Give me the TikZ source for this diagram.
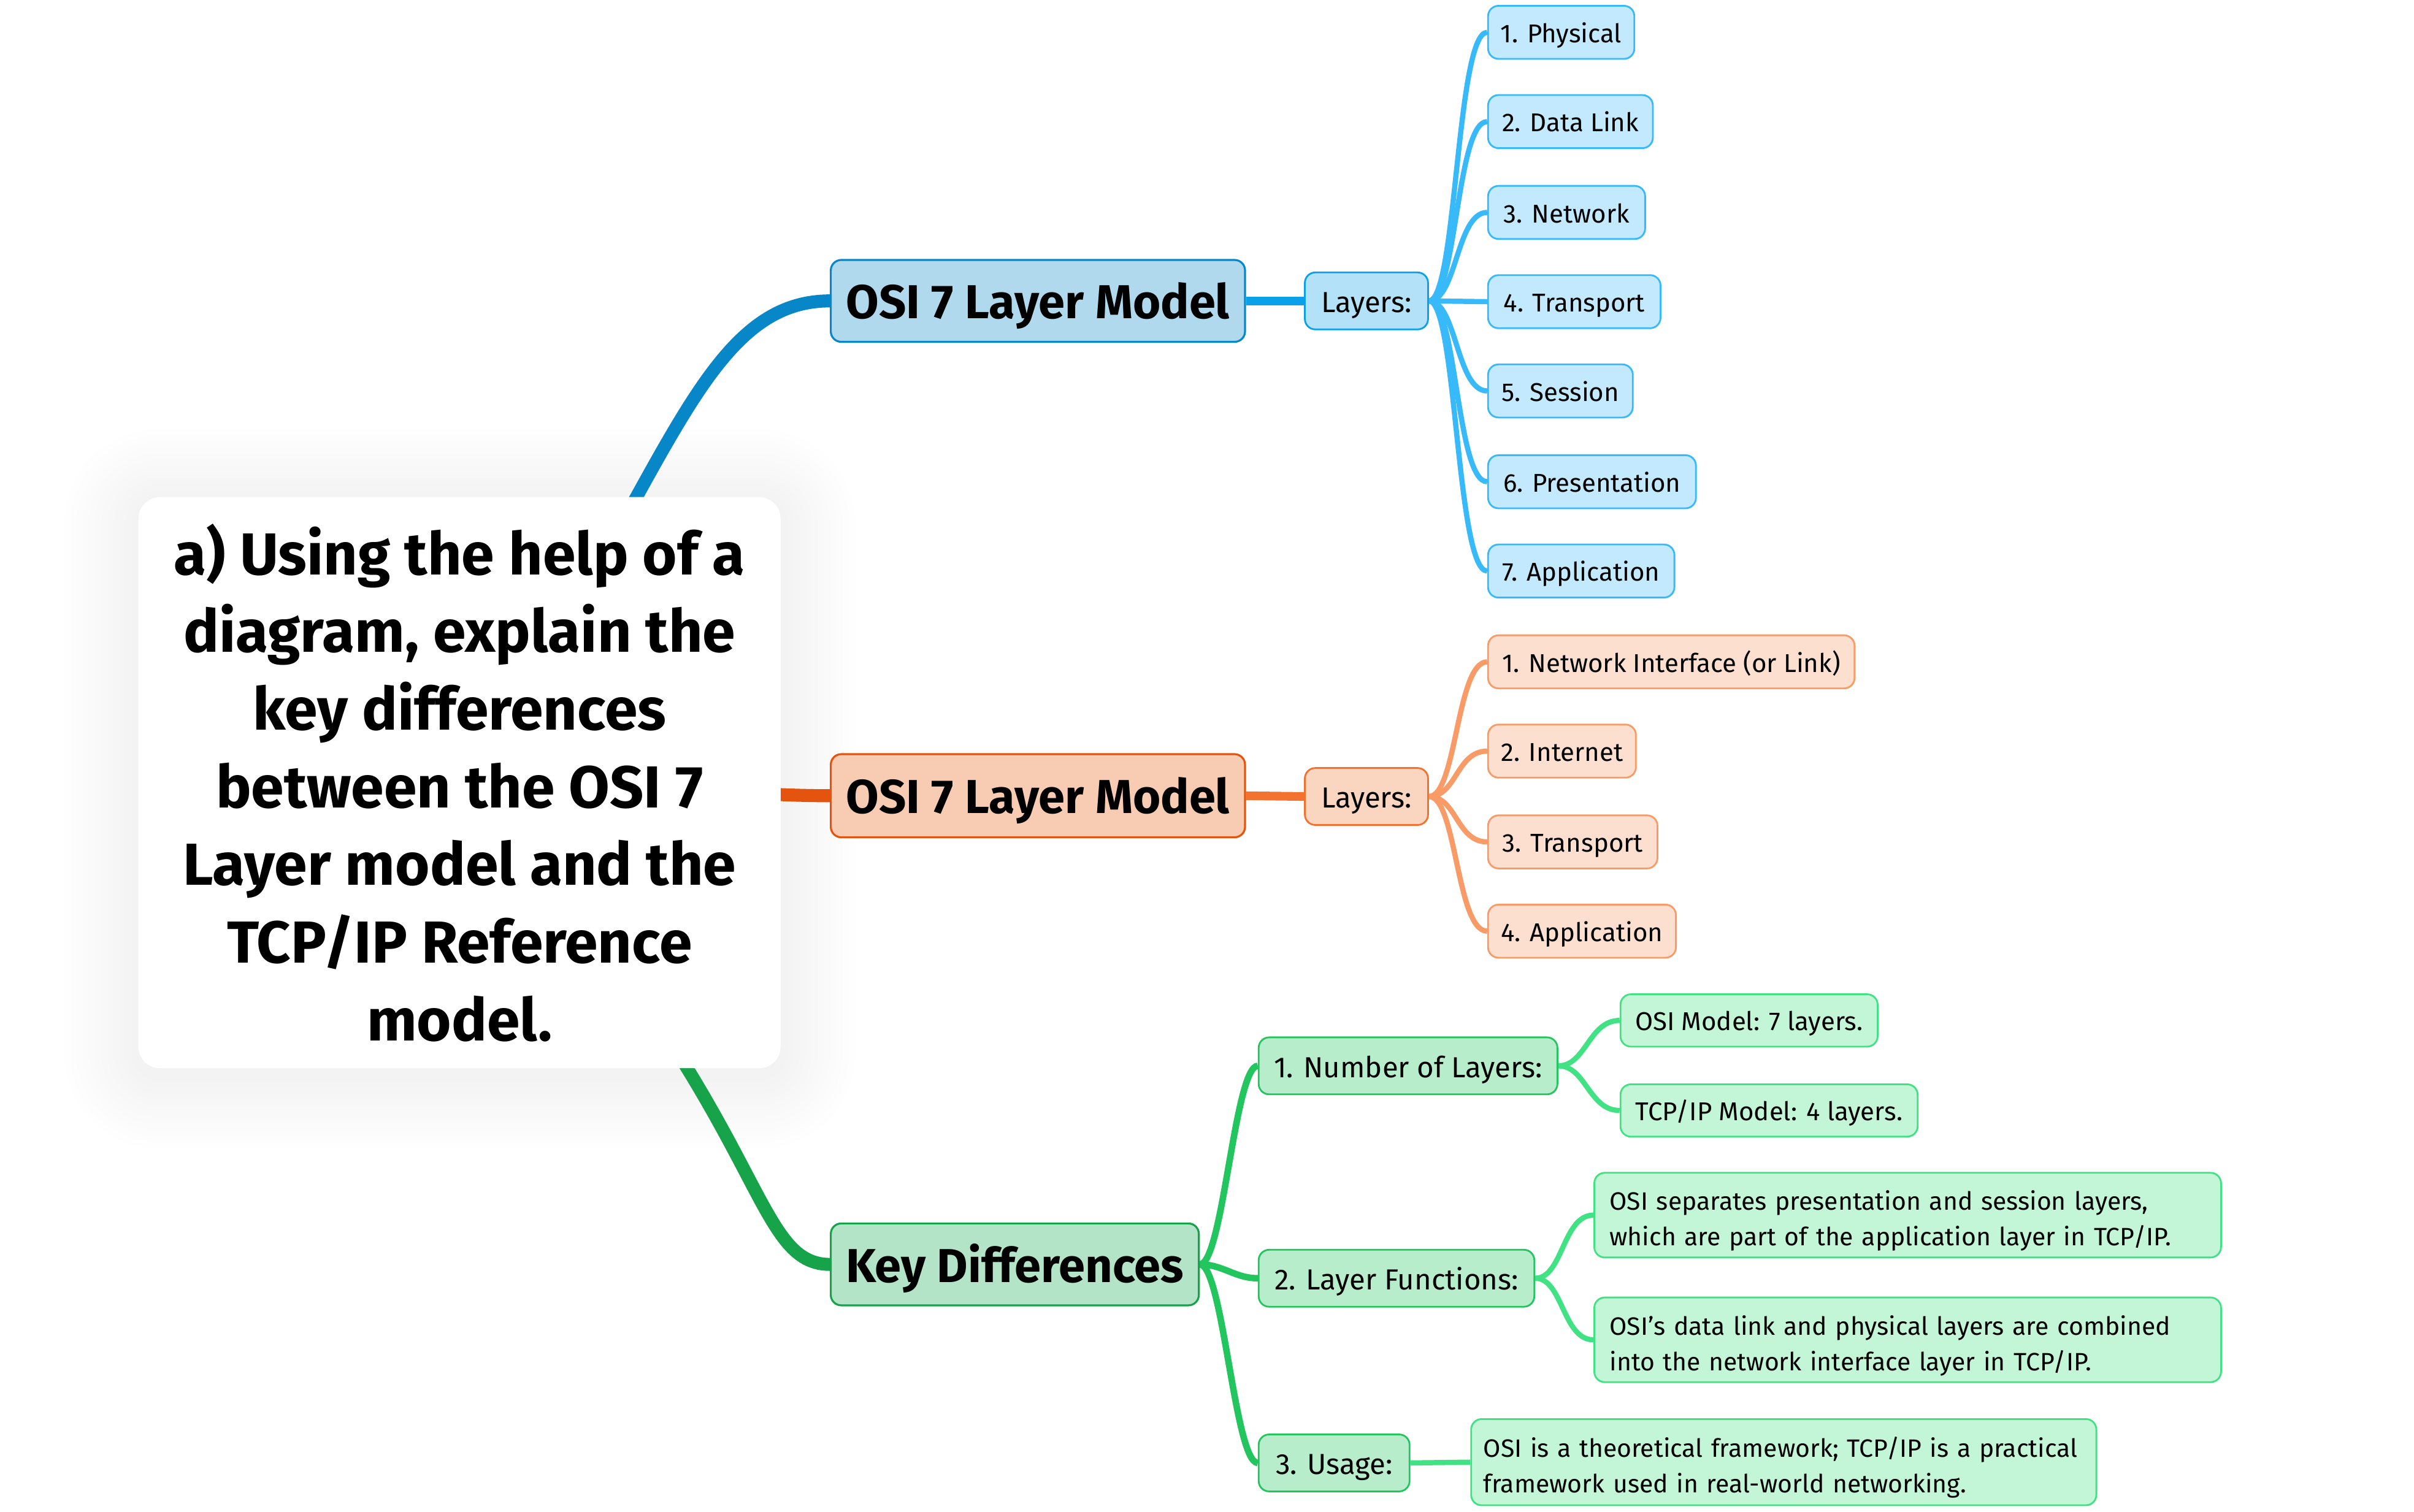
\documentclass[tikz,border=0pt]{standalone}
\usepackage{fontspec}
\setmainfont{Fira Sans}
\usepackage{tikz}
\usetikzlibrary{positioning,calc}
\definecolor{bluedeep}{HTML}{0786C8}
\definecolor{bluemainfill}{HTML}{B1D9ED}
\definecolor{bluemid}{HTML}{0BA1EA}
\definecolor{bluelayfill}{HTML}{B2E1F8}
\definecolor{bluelight}{HTML}{38B9FA}
\definecolor{blueleaffill}{HTML}{C2E9FD}
\definecolor{orgdeep}{HTML}{E5540E}
\definecolor{orgmainfill}{HTML}{F7CCB2}
\definecolor{orgmid}{HTML}{F47230}
\definecolor{orglayfill}{HTML}{FAD5C0}
\definecolor{orglight}{HTML}{F89B66}
\definecolor{orgleaffill}{HTML}{FCDFCF}
\definecolor{grndeep}{HTML}{16A34A}
\definecolor{grnmainfill}{HTML}{B3E4C7}
\definecolor{grnmid}{HTML}{22C55E}
\definecolor{grnsubfill}{HTML}{B8EDCC}
\definecolor{grnlight}{HTML}{41E284}
\definecolor{grnleaffill}{HTML}{C3F6D6}
\pgfdeclarelayer{background}
\pgfsetlayers{background,main}
\newcommand{\notestrut}{\rule{0pt}{14.4pt}}
\tikzset{
  mmcentre/.style={fill=white, rounded corners=0.35cm, align=center, inner sep=0pt,
    minimum width=10.425cm, minimum height=9.275cm, font=\fontsize{27.4}{35.9}\selectfont\bfseries},
  mmbox/.style={draw, rounded corners=0.17cm, line width=0.8pt, anchor=west, inner sep=0pt},
  mmtopic/.style={mmbox, line width=0.9pt, minimum height=1.33cm, text height=16.4pt, text depth=0pt,
    font=\fontsize{22}{26}\selectfont\bfseries},
  mmsub/.style={mmbox, minimum height=0.925cm, text height=10.7pt, text depth=0pt,
    font=\fontsize{13.4}{16}\selectfont},
  mmleaf/.style={mmbox, minimum height=0.8625cm, text height=9.4pt, text depth=0pt,
    font=\fontsize{11.9}{16.4}\selectfont},
  mmnote/.style={mmbox, align=left, inner xsep=0.25cm, minimum height=1.375cm,
    font=\fontsize{11.6}{16.4}\selectfont},
  mmmain/.style={line width=6pt},
  mmbranch/.style={line width=4pt},
  mmtwig/.style={line width=2.4pt},
}

\begin{document}
\begin{tikzpicture}[x=0.025cm, y=-0.025cm]
  \useasboundingbox (0,0) rectangle (1568,982);

  % question in the middle
  \node[mmcentre] (ctr) at (298.5,508.5) {a) Using the help of a\\diagram, explain the\\key differences\\between the OSI 7\\Layer model and the\\TCP/IP Reference\\model.};

  % OSI branch
  \node[mmtopic, fill=bluemainfill, draw=bluedeep, minimum width=6.725cm] (osiTop) at (539,195.5) {OSI 7 Layer Model};
  \node[mmsub, fill=bluelayfill, draw=bluemid, minimum width=2cm] (osiLay) at (847,195.5) {Layers:};
  \node[mmleaf, fill=blueleaffill, draw=bluelight, minimum width=2.375cm] (osiL1) at (966,21) {1. Physical};
  \node[mmleaf, fill=blueleaffill, draw=bluelight, minimum width=2.675cm] (osiL2) at (966,79) {2. Data Link};
  \node[mmleaf, fill=blueleaffill, draw=bluelight, minimum width=2.55cm] (osiL3) at (966,138) {3. Network};
  \node[mmleaf, fill=blueleaffill, draw=bluelight, minimum width=2.8cm] (osiL4) at (966,196) {4. Transport};
  \node[mmleaf, fill=blueleaffill, draw=bluelight, minimum width=2.35cm] (osiL5) at (966,254) {5. Session};
  \node[mmleaf, fill=blueleaffill, draw=bluelight, minimum width=3.375cm] (osiL6) at (966,313) {6. Presentation};
  \node[mmleaf, fill=blueleaffill, draw=bluelight, minimum width=3.025cm] (osiL7) at (966,371) {7. Application};

  % TCP/IP branch
  \node[mmtopic, fill=orgmainfill, draw=orgdeep, minimum width=6.725cm, minimum height=1.35cm] (tcpTop) at (539,517) {OSI 7 Layer Model};
  \node[mmsub, fill=orglayfill, draw=orgmid, minimum width=2cm] (tcpLay) at (847,517.5) {Layers:};
  \node[mmleaf, fill=orgleaffill, draw=orglight, minimum width=5.95cm] (tcpL1) at (966,430) {1. Network Interface (or Link)};
  \node[mmleaf, fill=orgleaffill, draw=orglight, minimum width=2.4cm] (tcpL2) at (966,488) {2. Internet};
  \node[mmleaf, fill=orgleaffill, draw=orglight, minimum width=2.75cm] (tcpL3) at (966,547) {3. Transport};
  \node[mmleaf, fill=orgleaffill, draw=orglight, minimum width=3.05cm] (tcpL4) at (966,605) {4. Application};

  % differences branch
  \node[mmtopic, fill=grnmainfill, draw=grndeep, minimum width=5.975cm] (keyTop) at (539,821.5) {Key Differences};
  \node[mmsub, fill=grnsubfill, draw=grnmid, minimum width=4.85cm] (keyNum) at (817,692.5) {1. Number of Layers:};
  \node[mmsub, fill=grnsubfill, draw=grnmid, minimum width=4.475cm] (keyFun) at (817,830.5) {2. Layer Functions:};
  \node[mmsub, fill=grnsubfill, draw=grnmid, minimum width=2.45cm] (keyUse) at (817,950.5) {3. Usage:};
  \node[mmleaf, fill=grnleaffill, draw=grnlight, minimum width=4.175cm, minimum height=0.85cm] (numOsi) at (1052,663) {OSI Model: 7 layers.};
  \node[mmleaf, fill=grnleaffill, draw=grnlight, minimum width=4.825cm, minimum height=0.85cm] (numTcp) at (1052,721.5) {TCP/IP Model: 4 layers.};
  \node[mmnote, fill=grnleaffill, draw=grnlight, text width=9.675cm] (funSep) at (1035,789.5) {\notestrut OSI separates presentation and session layers,\\which are part of the application layer in TCP/IP.};
  \node[mmnote, fill=grnleaffill, draw=grnlight, text width=9.675cm] (funMix) at (1035,870.5) {\notestrut OSI’s data link and physical layers are combined\\into the network interface layer in TCP/IP.};
  \node[mmnote, fill=grnleaffill, draw=grnlight, inner xsep=0.2cm, text width=9.75cm, minimum height=1.4cm] (useTxt) at (955,950) {\notestrut OSI is a theoretical framework; TCP/IP is a practical\\framework used in real-world networking.};

  \begin{pgfonlayer}{background}
    \fill[white] (0,0) rectangle (1568,982);
    % soft shadow of the question box
    \foreach \s [evaluate=\s as \rc using 0.35+0.025*\s] in {4,8,...,48}
      \fill[black, opacity=0.004, rounded corners=\rc cm] ($(ctr.north west)+(-\s,-\s+4)$) rectangle ($(ctr.south east)+(\s,\s+4)$);

    \draw[mmmain, bluedeep] (ctr.center) .. controls (430,330) and (450,195.5) .. (osiTop.west);
    \draw[mmmain, orgdeep] (ctr.center) .. controls (420,508.5) and (480,517) .. (tcpTop.west);
    \draw[mmmain, grndeep] (ctr.center) .. controls (500,715) and (485,821.5) .. (keyTop.west);

    \draw[mmbranch, bluemid] (osiTop.east) -- (osiLay.west);
    \draw[mmtwig, bluelight] (osiLay.east) .. controls +(18,0) and +(-20,0) .. (osiL1.west);
    \draw[mmtwig, bluelight] (osiLay.east) .. controls +(18,0) and +(-20,0) .. (osiL2.west);
    \draw[mmtwig, bluelight] (osiLay.east) .. controls +(18,0) and +(-20,0) .. (osiL3.west);
    \draw[mmtwig, bluelight] (osiLay.east) -- (osiL4.west);
    \draw[mmtwig, bluelight] (osiLay.east) .. controls +(18,0) and +(-20,0) .. (osiL5.west);
    \draw[mmtwig, bluelight] (osiLay.east) .. controls +(18,0) and +(-20,0) .. (osiL6.west);
    \draw[mmtwig, bluelight] (osiLay.east) .. controls +(18,0) and +(-20,0) .. (osiL7.west);

    \draw[mmbranch, orgmid] (tcpTop.east) -- (tcpLay.west);
    \draw[mmtwig, orglight] (tcpLay.east) .. controls +(18,0) and +(-20,0) .. (tcpL1.west);
    \draw[mmtwig, orglight] (tcpLay.east) .. controls +(18,0) and +(-20,0) .. (tcpL2.west);
    \draw[mmtwig, orglight] (tcpLay.east) .. controls +(18,0) and +(-20,0) .. (tcpL3.west);
    \draw[mmtwig, orglight] (tcpLay.east) .. controls +(18,0) and +(-20,0) .. (tcpL4.west);

    \draw[mmbranch, grnmid, line width=3pt] (keyTop.east) .. controls +(15,0) and +(-15,0) .. (keyNum.west);
    \draw[mmbranch, grnmid, line width=3pt] (keyTop.east) .. controls +(15,0) and +(-15,0) .. (keyFun.west);
    \draw[mmbranch, grnmid, line width=3pt] (keyTop.east) .. controls +(15,0) and +(-15,0) .. (keyUse.west);
    \draw[mmtwig, grnlight] (keyNum.east) .. controls +(18,0) and +(-20,0) .. (numOsi.west);
    \draw[mmtwig, grnlight] (keyNum.east) .. controls +(18,0) and +(-20,0) .. (numTcp.west);
    \draw[mmtwig, grnlight] (keyFun.east) .. controls +(18,0) and +(-20,0) .. (funSep.west);
    \draw[mmtwig, grnlight] (keyFun.east) .. controls +(18,0) and +(-20,0) .. (funMix.west);
    \draw[mmtwig, grnlight] (keyUse.east) -- (useTxt.west);
  \end{pgfonlayer}
\end{tikzpicture}
\end{document}
